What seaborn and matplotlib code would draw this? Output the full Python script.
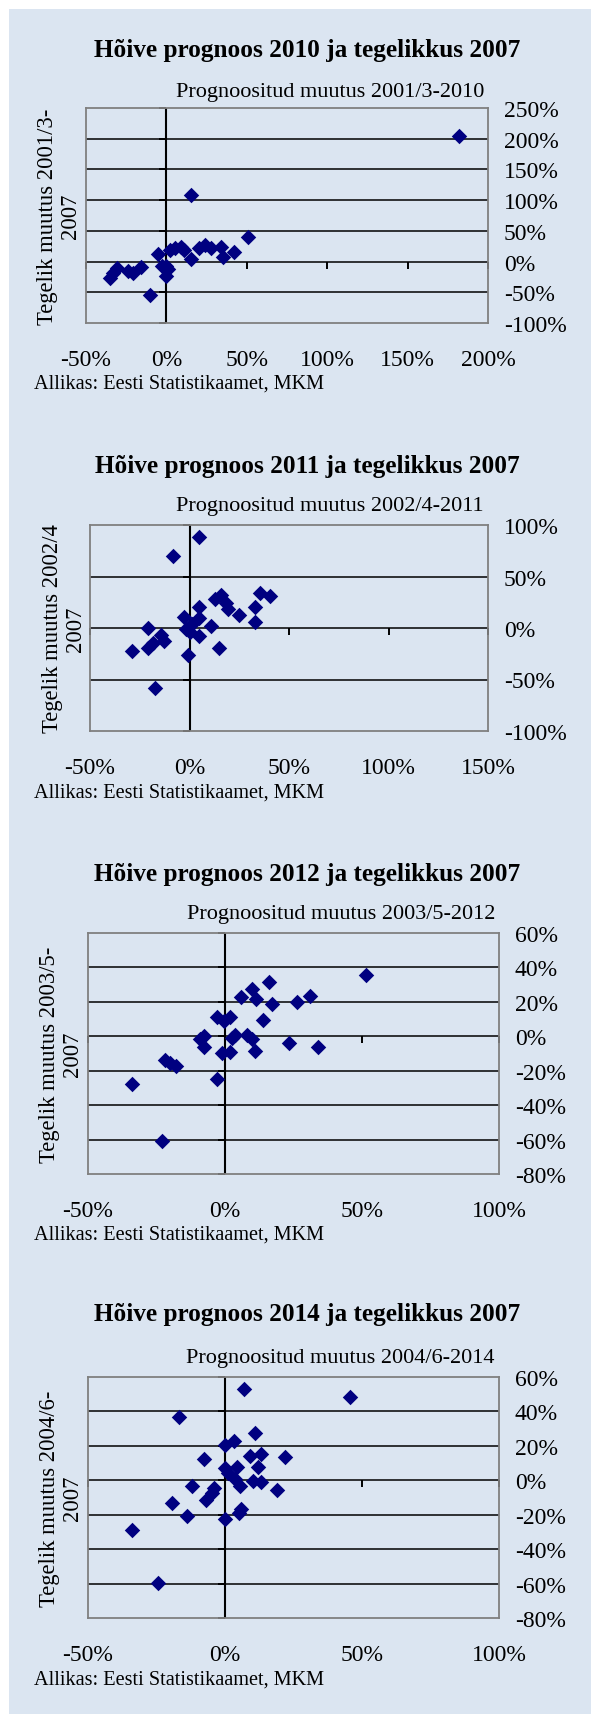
import matplotlib
matplotlib.use('Agg')
import matplotlib.pyplot as plt
from matplotlib.markers import TICKDOWN, TICKLEFT
from matplotlib.patches import Rectangle
import seaborn as sns
import pandas as pd

sns.set_style('white')
plt.rcParams['font.family'] = ['Liberation Serif', 'DejaVu Serif']
plt.rcParams['text.color'] = 'black'
plt.rcParams['xtick.color'] = 'black'
plt.rcParams['ytick.color'] = 'black'

# Panel texts
titles = ['Hõive prognoos 2010 ja tegelikkus 2007',
          'Hõive prognoos 2011 ja tegelikkus 2007',
          'Hõive prognoos 2012 ja tegelikkus 2007',
          'Hõive prognoos 2014 ja tegelikkus 2007']
subtitles = ['Prognoositud muutus 2001/3-2010',
             'Prognoositud muutus 2002/4-2011',
             'Prognoositud muutus 2003/5-2012',
             'Prognoositud muutus 2004/6-2014']
ylabels = ['Tegelik muutus 2001/3-\n2007',
           'Tegelik muutus 2002/4\n2007',
           'Tegelik muutus 2003/5-\n2007',
           'Tegelik muutus 2004/6-\n2007']
source = 'Allikas: Eesti Statistikaamet, MKM'

# Tick values (%)
xticks1 = [-50, 0, 50, 100, 150, 200]
yticks1 = [-100, -50, 0, 50, 100, 150, 200, 250]
xticks2 = [-50, 0, 50, 100, 150]
yticks2 = [-100, -50, 0, 50, 100]
xticks3 = [-50, 0, 50, 100]
yticks3 = [-80, -60, -40, -20, 0, 20, 40, 60]
xticks4 = [-50, 0, 50, 100]
yticks4 = [-80, -60, -40, -20, 0, 20, 40, 60]

# Data: predicted change (x, %) vs actual change (y, %)
x1 = [182, 15, 51, 42, 35, 34, 28, 24, 20, 15, 9, -5, 2, 5.5, 11,
      0, -3, 1, 0, -10, -15.5, -21, -24, -31, -35, -33]
y1 = [205, 109, 40, 16, 7, 24, 22, 27, 22, 5, 24, 12, 19, 22, 19,
      -7, -8, -12, -24, -54, -9, -19, -16, -11, -26, -19]

x2 = [5, -8.5, 35.5, 40.6, 33, 33, 25, 19.5, 15.7, 13, 18.5, 11, 5, 5,
      -3, 1.5, -2, 0, 4.7, -1, 15, -21, -14.5, -12.6, -18.4, -21, -29, -17.5]
y2 = [88, 70, 34, 31, 20, 5.5, 13, 18, 32, 28, 24, 2, 20, 10,
      11, 4, -1, -4, -8, -26, -19, 0, -7, -13, -15, -19, -22, -58]

x3 = [51.6, 15.9, 10, 5.9, 11.4, 17.2, 26.1, 30.9, 13.7, -3, -0.5, 1.8,
      -7.8, -9.2, -7.8, 3.8, 2.7, 8, 9.8, 11, 23.4, 34, -1, 2,
      -21.8, -20, -18, -3, -34, -23]
y3 = [35.6, 31.6, 27.5, 22.6, 21.6, 18.8, 19.7, 23.4, 9.7, 11.4, 9.1, 11,
      0.4, -1.5, -6, 1, -1, 1, -1.5, -8.7, -4, -6, -9.7, -9,
      -13.6, -15.5, -17, -25, -28, -61]

x4 = [7, 45.7, -16.8, 11.1, 3.2, 0, -7.8, 9.3, 13, 22, 12, 0, 4.3, 1.1,
      3.8, 10.3, 13, 5.5, 19, -12, -4, -4.7, -7.1, -19.5, 5.9, 5.2,
      -14, 0, -34, -24.3]
y4 = [53.2, 48.5, 36.9, 27.3, 22.8, 20.5, 12.2, 14.1, 15.1, 13.7, 7.9, 7.3,
      7.7, 4, 0.6, -0.4, -0.8, -3.3, -5.6, -3.3, -4.3, -7.5, -11.6, -13.3,
      -16.8, -18.8, -20.7, -22.6, -28.8, -59.8]

panels = [
    (x1, y1, xticks1, yticks1),
    (x2, y2, xticks2, yticks2),
    (x3, y3, xticks3, yticks3),
    (x4, y4, xticks4, yticks4),
]

# layout in pixels: left, top, right, bottom of plot box
W, H = 591, 1715
boxes = [(86, 109, 488, 324), (90, 526, 488, 732), (88, 934, 499, 1175), (88, 1378, 499, 1619)]
title_y = [50, 467, 875, 1315]
sub_y = [92, 507, 914, 1359]
ylab_x = [59, 64, 61, 61]
src_y = [384, 793, 1235, 1680]

fig = plt.figure(figsize=(W / 100, H / 100), dpi=100)
fig.patch.set_facecolor('white')
fig.patches.append(Rectangle((9 / W, 0), 1, 1 - 10 / H, transform=fig.transFigure,
                             facecolor='#dbe5f1', edgecolor='none', zorder=-10))

navy = '#000080'
for i, (xs, ys, xt, yt) in enumerate(panels):
    l, t, r, b = boxes[i]
    ax = fig.add_axes([l / W, 1 - b / H, (r - l) / W, (b - t) / H], zorder=1)
    ax.set_facecolor('none')
    df = pd.DataFrame({'prognoos': xs, 'tegelik': ys})
    sns.scatterplot(data=df, x='prognoos', y='tegelik', ax=ax, marker='D', s=62,
                    color=navy, edgecolor=navy, linewidth=0, zorder=4)
    ax.set_xlim(xt[0], xt[-1])
    ax.set_ylim(yt[0], yt[-1])
    ax.set_xticks(xt)
    ax.set_yticks(yt)
    ax.set_xticklabels([f'{v}%' for v in xt])
    ax.set_yticklabels([f'{v}%' for v in yt])
    ax.yaxis.tick_right()
    ax.tick_params(axis='x', length=0, pad=19, labelsize=17)
    ax.tick_params(axis='y', length=0, pad=11.5, labelsize=17)
    ax.set_xlabel('')
    ax.set_ylabel('')
    for v in yt[1:-1]:
        ax.axhline(v, color='black', lw=1.1, zorder=1)
    ax.axvline(0, color='black', lw=1.5, zorder=2)
    ax.plot(xt, [0] * len(xt), ls='none', marker=TICKDOWN, ms=5, mew=1.4,
            color='black', clip_on=False, zorder=2)
    ax.plot([0] * len(yt), yt, ls='none', marker=TICKLEFT, ms=5, mew=1.4,
            color='black', clip_on=False, zorder=2)
    for sp in ax.spines.values():
        sp.set_visible(True)
        sp.set_color('#808080')
        sp.set_linewidth(1.3)

    fig.text(307 / W, 1 - title_y[i] / H, titles[i], ha='center', va='center',
             fontsize=18.2, fontweight='bold')
    fig.text((r - 4) / W, 1 - sub_y[i] / H, subtitles[i], ha='right', va='center',
             fontsize=16)
    fig.text(ylab_x[i] / W, 1 - (t + b) / 2 / H, ylabels[i], ha='center', va='center',
             rotation=90, fontsize=16.3, multialignment='center', linespacing=1.15)
    fig.text(34 / W, 1 - src_y[i] / H, source, ha='left', va='center', fontsize=14.6)

fig.savefig('out.png', dpi=100)
